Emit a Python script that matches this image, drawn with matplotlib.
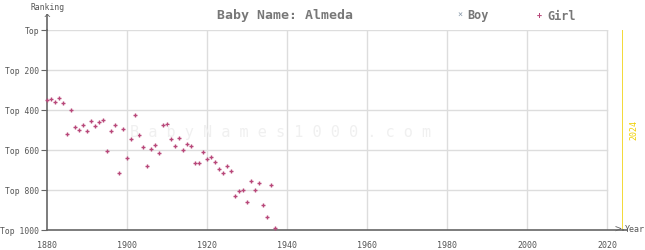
import matplotlib
matplotlib.use("Agg")
import matplotlib.pyplot as plt

years = list(range(1880, 1938))
girl_rank = [352, 347, 362, 342, 367, 522, 402, 487, 502, 477,
             507, 457, 482, 462, 452, 607, 507, 477, 717, 497,
             642, 547, 427, 527, 587, 682, 597, 577, 617, 477,
             472, 547, 582, 542, 602, 572, 582, 667, 667, 612,
             647, 637, 662, 697, 717, 682, 707, 832, 807, 802,
             862, 757, 802, 767, 877, 937, 777, 992]

x_ticks = [1880, 1900, 1920, 1940, 1960, 1980, 2000, 2020]
y_ticks = [0, 200, 400, 600, 800, 1000]
y_labels = ["Top", "Top 200", "Top 400", "Top 600", "Top 800", "Top 1000"]

W, H = 645, 250
fig = plt.figure(figsize=(W / 100, H / 100), dpi=100)
x0, x1 = 47, 623
y0, y1 = 30, 230
ax = fig.add_axes([x0 / W, 1 - y1 / H, (x1 - x0) / W, (y1 - y0) / H])
ax.set_xlim(1880, 2024)
ax.set_ylim(1000, 0)

mono = "DejaVu Sans Mono"
grid_c = "#dddddd"
axis_c = "#666666"
text_c = "#555555"
yellow = "#f0d000"

for s in ["top", "right"]:
    ax.spines[s].set_visible(False)
for s in ["left", "bottom"]:
    ax.spines[s].set_color(axis_c)
    ax.spines[s].set_linewidth(1.2)

for yt in y_ticks[:-1]:
    ax.plot([1880, 2020], [yt, yt], color=grid_c, lw=1, zorder=0)
for xt in x_ticks[1:]:
    ax.plot([xt, xt], [0, 1000], color=grid_c, lw=1, zorder=0)

ax.set_xticks(x_ticks)
ax.set_xticklabels([str(x) for x in x_ticks], fontfamily=mono, fontsize=6, color=text_c)
ax.set_yticks(y_ticks)
ax.set_yticklabels(y_labels, fontfamily=mono, fontsize=5.8, color=text_c)
ax.tick_params(axis="x", length=0, pad=8)
ax.tick_params(axis="y", length=4, color=axis_c, pad=1.5)

# 2024 line
ax.axvline(2024, color=yellow, lw=1.1, zorder=1)
fig.text(634 / W, 1 - 130 / H, "2024", rotation=90, color=yellow,
         fontfamily=mono, fontsize=6, ha="center", va="center")

# watermark
fig.text(281 / W, 1 - 133 / H, "B a b y N a m e s 1 0 0 0 . c o m",
         fontfamily=mono, fontsize=11, color="#f0f0f0", ha="center", va="center", zorder=0)

ax.scatter(years, girl_rank, marker="+", s=10, linewidths=1.0, color="#b8487a", zorder=3, clip_on=False)

# axis arrows
fig.add_artist(plt.Line2D([x0 / W, x0 / W], [1 - y0 / H, 1 - 15 / H], color=axis_c, lw=1.2))
fig.text(x0 / W, 1 - 19 / H, "^", fontfamily=mono, fontsize=8, color=axis_c, ha="center", va="center")
fig.text(48 / W, 1 - 8 / H, "Ranking", fontfamily=mono, fontsize=5.8, color=text_c, ha="center", va="center")
fig.add_artist(plt.Line2D([x1 / W, 627 / W], [1 - y1 / H, 1 - y1 / H], color=axis_c, lw=1.2))
fig.text(618 / W, 1 - 230 / H, ">", fontfamily=mono, fontsize=8, color=axis_c, ha="center", va="center")
fig.text(625 / W, 1 - 230 / H, "Year", fontfamily=mono, fontsize=6, color=text_c, ha="left", va="center")

# title and legend
fig.text(217 / W, 1 - 16 / H, "Baby Name: Almeda", fontfamily=mono, fontsize=9.5,
         fontweight="bold", color="#777777", ha="left", va="center")
fig.text(460 / W, 1 - 15 / H, "×", fontfamily=mono, fontsize=6, color="#8899aa", ha="center", va="center")
fig.text(467 / W, 1 - 16 / H, "Boy", fontfamily=mono, fontsize=8.5, fontweight="bold", color="#777777",
         ha="left", va="center")
fig.text(539 / W, 1 - 15 / H, "+", fontfamily=mono, fontsize=6, fontweight="bold", color="#b8487a",
         ha="center", va="center")
fig.text(547 / W, 1 - 16 / H, "Girl", fontfamily=mono, fontsize=8.5, fontweight="bold", color="#777777",
         ha="left", va="center")

fig.savefig("out.png", dpi=100, facecolor="white")
